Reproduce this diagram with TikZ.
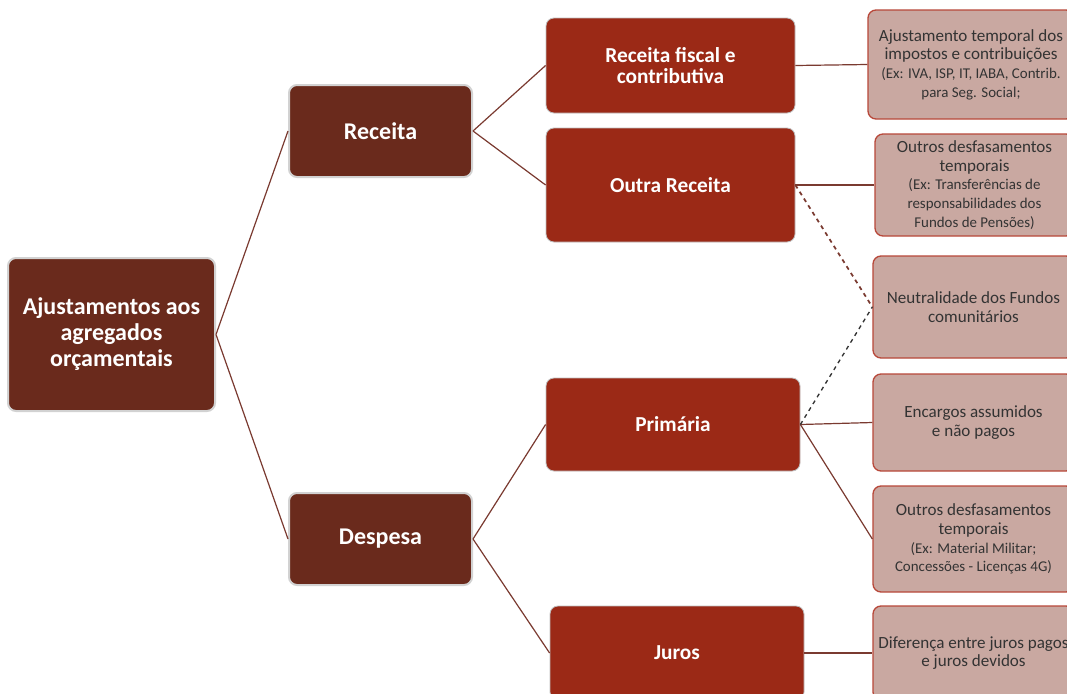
\documentclass[tikz,border=0pt]{standalone}
\usepackage{fontspec}
\setmainfont{Carlito}
\definecolor{darkbox}{HTML}{6A2A1C}
\definecolor{redbox}{HTML}{9B2916}
\definecolor{pinkbox}{HTML}{C9A8A1}
\definecolor{pinkline}{HTML}{B8483A}
\definecolor{conn}{HTML}{7A3A30}
\tikzset{
  darknode/.style={draw=gray!35, line width=1.5pt, fill=darkbox, rounded corners=6pt, text=white, font=\bfseries\fontsize{18}{19.5}\selectfont, align=center, inner sep=0pt},
  rednode/.style={draw=gray!50, line width=0.6pt, fill=redbox, rounded corners=6pt, text=white, font=\bfseries\fontsize{16}{16}\selectfont, align=center, inner sep=0pt, minimum width=190.5pt},
  pinknode/.style={draw=pinkline, line width=1pt, fill=pinkbox, text=black!80, rounded corners=6pt, font=\fontsize{12.8}{14}\selectfont, align=center, inner sep=0pt, minimum width=150.75pt},
  conline/.style={draw=conn, line width=0.9pt}
}
\newcommand{\smallex}{\fontsize{11.2}{12.75}\selectfont}
\begin{document}
\begin{tikzpicture}[x=0.75pt,y=-0.75pt]
\useasboundingbox (0,0) rectangle (1067,693);
\clip (0,0) rectangle (1067,693);
\fill[white] (0,0) rectangle (1067,693);
% nodes
\node[darknode, minimum width=155.25pt, minimum height=114.75pt] (root) at (111.5,334.5) {Ajustamentos aos\\agregados\\orçamentais};
\node[darknode, minimum width=137.25pt, minimum height=69pt] (rec) at (380.5,131) {Receita};
\node[darknode, minimum width=137.25pt, minimum height=69pt] (desp) at (380.5,539) {Despesa};
\node[rednode, minimum width=186.75pt, minimum height=71.25pt] (rf) at (670.5,65.5) {Receita fiscal e\\contributiva};
\node[rednode, minimum width=186.75pt, minimum height=85.5pt] (or) at (670.5,185) {Outra Receita};
\node[rednode, minimum height=69.75pt] (prim) at (673,424.5) {Primária};
\node[rednode, minimum height=70.5pt] (jur) at (677,653) {Juros};
\node[pinknode, minimum width=154.5pt, minimum height=81.75pt] (b1) at (971,64.5) {Ajustamento temporal dos\\impostos e contribuições\\{\smallex (Ex: IVA, ISP, IT, IABA, Contrib.}\\{\smallex para Seg. Social;}};
\node[pinknode, minimum width=149.25pt, minimum height=76.5pt] (b2) at (974.5,185) {Outros desfasamentos\\temporais\\{\smallex (Ex: Transferências de}\\{\smallex responsabilidades dos}\\{\smallex Fundos de Pensões)}};
\node[pinknode, minimum height=76.5pt] (b3) at (973.5,307) {Neutralidade dos Fundos\\comunitários};
\node[pinknode, minimum height=72.75pt] (b4) at (973.5,422.5) {Encargos assumidos\\e não pagos};
\node[pinknode, minimum height=79.5pt] (b5) at (973.5,539) {Outros desfasamentos\\temporais\\{\smallex (Ex: Material Militar;}\\{\smallex Concessões - Licenças 4G)}};
\node[pinknode, minimum height=70.5pt] (b6) at (973.5,653) {Diferença entre juros pagos\\e juros devidos};
% connectors
\draw[conline] (root.east) -- (rec.west);
\draw[conline] (root.east) -- (desp.west);
\draw[conline] (rec.east) -- (rf.west);
\draw[conline] (rec.east) -- (or.west);
\draw[conline] (desp.east) -- (prim.west);
\draw[conline] (desp.east) -- (jur.west);
\draw[conline] (rf.east) -- (b1.west);
\draw[conline] (or.east) -- (b2.west);
\draw[conline] (prim.east) -- (b4.west);
\draw[conline] (prim.east) -- (b5.west);
\draw[conline] (jur.east) -- (b6.west);
\draw[draw=conn, line width=1.3pt, dashed] (or.east) -- (b3.west);
\draw[draw=black!80, line width=1pt, dashed] (prim.east) -- (b3.west);
\end{tikzpicture}
\end{document}
